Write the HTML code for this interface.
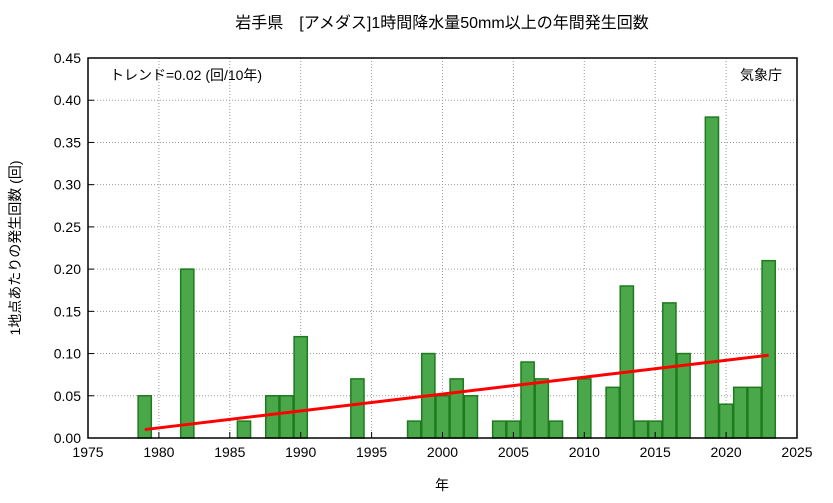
<!DOCTYPE html>
<html><head><meta charset="utf-8"><style>
body{margin:0;background:#fff;}
svg text{font-family:"Liberation Sans","Noto Sans CJK JP",sans-serif;fill:#000;}
</style></head><body>
<svg id="chart" width="833" height="498" xmlns="http://www.w3.org/2000/svg">
<text x="442" y="28" font-size="16" text-anchor="middle">岩手県　[アメダス]1時間降水量50mm以上の年間発生回数</text>
<g id="grid"></g>
<g id="bars"></g>
<g id="axes"></g>
<text x="110" y="80" font-size="14">トレンド=0.02 (回/10年)</text>
<text x="782" y="80" font-size="14" text-anchor="end">気象庁</text>
<text x="442" y="490" font-size="14" text-anchor="middle">年</text>
<text transform="translate(20,248) rotate(-90)" font-size="14" text-anchor="middle">1地点あたりの発生回数 (回)</text>
</svg>
<script>
const years=[1979,1982,1986,1988,1989,1990,1994,1998,1999,2000,2001,2002,2004,2005,2006,2007,2008,2010,2012,2013,2014,2015,2016,2017,2019,2020,2021,2022,2023];
const values=[0.05,0.20,0.02,0.05,0.05,0.12,0.07,0.02,0.10,0.05,0.07,0.05,0.02,0.02,0.09,0.07,0.02,0.07,0.06,0.18,0.02,0.02,0.16,0.10,0.38,0.04,0.06,0.06,0.21];
const xTicks=[1975,1980,1985,1990,1995,2000,2005,2010,2015,2020,2025];
const yTicks=[0,0.05,0.10,0.15,0.20,0.25,0.30,0.35,0.40,0.45];
const trendStart=[1979,0.010];
const trendEnd=[2023,0.098];
const L=88,R=797,T=58,B=438;
const xs=v=>L+(v-1975)/50*(R-L);
const ys=v=>B-v/0.45*(B-T);
const NS="http://www.w3.org/2000/svg";
function mk(tag,attrs,parent){const e=document.createElementNS(NS,tag);for(const k in attrs)e.setAttribute(k,attrs[k]);document.getElementById(parent).appendChild(e);return e;}
xTicks.forEach(t=>{
 const g=mk('line',{x1:xs(t),x2:xs(t),y1:T,y2:B,stroke:'#999','stroke-dasharray':'1,2'},'grid');
 
 
 const tk=mk('line',{x1:xs(t),x2:xs(t),y1:B,y2:B-6,stroke:'#000'},'axes');
 
 
 const lb=mk('text',{x:xs(t),y:B+19,'font-size':14,'text-anchor':'middle'},'axes');lb.textContent=t;
 
 
});
yTicks.forEach(t=>{
 const g=mk('line',{x1:L,x2:R,y1:ys(t),y2:ys(t),stroke:'#999','stroke-dasharray':'1,2'},'grid');
 
 
 const tk=mk('line',{x1:L,x2:L+6,y1:ys(t),y2:ys(t),stroke:'#000'},'axes');
 
 
 const lb=mk('text',{x:L-7,y:ys(t)+5,'font-size':14,'text-anchor':'end'},'axes');lb.textContent=t.toFixed(2);
 
 
});
const bw=(R-L)/50;
years.forEach((y,i)=>{
 const b=mk('rect',{x:xs(y)-bw/2+0.5,y:ys(values[i]),width:bw-1,height:B-ys(values[i]),fill:'#4aa84a',stroke:'#1e7a1e','stroke-width':1.5},'bars');
 
 
});
const tl=mk('line',{x1:xs(trendStart[0]),y1:ys(trendStart[1]),x2:xs(trendEnd[0]),y2:ys(trendEnd[1]),stroke:'#ff0000','stroke-width':3},'bars');


const fr=mk('rect',{x:L,y:T,width:R-L,height:B-T,fill:'none',stroke:'#000','stroke-width':1.5},'axes');


</script>
</body></html>
